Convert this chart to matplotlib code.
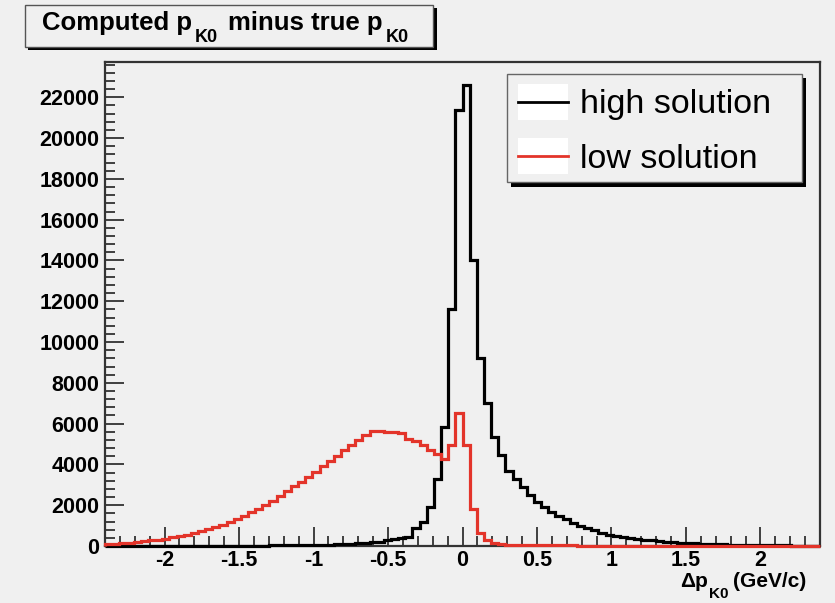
import numpy as np
import matplotlib
matplotlib.use("Agg")
import matplotlib.pyplot as plt
from matplotlib.patches import Rectangle
from matplotlib.lines import Line2D
from matplotlib.ticker import MultipleLocator

plt.rcParams['font.family'] = ['Liberation Sans', 'DejaVu Sans']
plt.rcParams['axes.unicode_minus'] = False

# histogram binning: 100 bins from -2.4 to 2.4 GeV/c
x_lo, x_hi, n_bins = -2.4, 2.4, 100

# high solution counts (thousands), read bin by bin
high = [0.00, 0.00, 0.00, 0.00, 0.00, 0.00, 0.00, 0.00, 0.00, 0.00,
        0.00, 0.00, 0.00, 0.01, 0.01, 0.01, 0.01, 0.01, 0.01, 0.02,
        0.02, 0.02, 0.02, 0.03, 0.03, 0.03, 0.04, 0.04, 0.05, 0.05,
        0.06, 0.07, 0.08, 0.09, 0.11, 0.13, 0.15, 0.18, 0.22, 0.27,
        0.33, 0.40, 0.46, 0.87, 1.19, 1.93, 3.30, 5.85, 11.6, 21.4,
        22.6, 14.0, 9.20, 7.00, 5.36, 4.46, 3.70, 3.28, 2.88, 2.50,
        2.17, 1.90, 1.68, 1.48, 1.30, 1.15, 1.00, 0.88, 0.77, 0.66,
        0.56, 0.49, 0.43, 0.38, 0.34, 0.30, 0.27, 0.24, 0.21, 0.19,
        0.17, 0.15, 0.13, 0.11, 0.10, 0.09, 0.08, 0.07, 0.06, 0.05,
        0.045, 0.04, 0.035, 0.03, 0.03, 0.025, 0.02, 0.02, 0.02, 0.015]

# low solution counts (thousands)
low = [0.10, 0.12, 0.14, 0.17, 0.20, 0.23, 0.27, 0.31, 0.36, 0.42,
       0.48, 0.55, 0.63, 0.72, 0.82, 0.93, 1.05, 1.18, 1.32, 1.48,
       1.65, 1.83, 2.02, 2.22, 2.45, 2.68, 2.92, 3.15, 3.40, 3.65,
       3.90, 4.15, 4.42, 4.70, 4.95, 5.20, 5.45, 5.62, 5.65, 5.60,
       5.58, 5.55, 5.25, 5.15, 4.95, 4.70, 4.50, 4.25, 4.95, 6.50,
       4.95, 1.80, 0.65, 0.30, 0.15, 0.08, 0.06, 0.05, 0.05, 0.04,
       0.04, 0.04, 0.03, 0.03, 0.03, 0.03, 0.02, 0.02, 0.02, 0.02,
       0.02, 0.02, 0.02, 0.01, 0.01, 0.01, 0.01, 0.01, 0.01, 0.01,
       0.01, 0.01, 0.01, 0.01, 0.01, 0.01, 0.01, 0.01, 0.01, 0.01,
       0.01, 0.01, 0.01, 0.01, 0.01, 0.01, 0.01, 0.01, 0.01, 0.01]

x_ticks = [-2, -1.5, -1, -0.5, 0, 0.5, 1, 1.5, 2]
x_tick_labels = ['-2', '-1.5', '-1', '-0.5', '0', '0.5', '1', '1.5', '2']
y_ticks = list(range(0, 22001, 2000))

# (text, size, drop in px, gap after in px)
title_parts = [('Computed p', 18.5, 0, 3), ('K0', 13, 12, 10),
               ('minus true p', 18.5, 0, 3), ('K0', 13, 12, 0)]
xlabel_parts = [('\u0394p', 15, 0, 1), ('K0', 11, 11, 4), ('(GeV/c)', 15, 0, 0)]
legend_labels = ['high solution', 'low solution']

W, H = 835, 603
bg = '#f0f0f0'
red = '#e3342a'

def fx(x):
    return x / W

def fy(y):
    return 1 - y / H

fig = plt.figure(figsize=(W / 100, H / 100), dpi=100, facecolor=bg)
renderer = fig.canvas.get_renderer()

def rich_text(x0, y0, parts, align='left', z=3):
    # draws bold text pieces one after another, subscripts dropped lower
    texts = []
    for s, size, drop, gap in parts:
        t = fig.text(0, 0, s, fontsize=size, fontweight='bold',
                     ha='left', va='baseline', zorder=z)
        texts.append((t, t.get_window_extent(renderer).width, drop, gap))
    total = sum(w + g for _, w, _, g in texts)
    x = x0 - total if align == 'right' else x0
    for t, w, drop, gap in texts:
        t.set_position((fx(x), fy(y0 + drop)))
        x += w + gap

ax = fig.add_axes([fx(105), fy(546), fx(820) - fx(105), fy(62) - fy(546)])
ax.set_facecolor(bg)

edges = np.linspace(x_lo, x_hi, n_bins + 1)
ax.stairs(np.array(high) * 1000, edges, color='black', lw=2.3, zorder=3, clip_on=False)
ax.stairs(np.array(low) * 1000, edges, color=red, lw=2.3, zorder=4, clip_on=False)

ax.set_xlim(x_lo, x_hi)
ax.set_ylim(0, max(high) * 1000 * 1.05)
ax.set_xticks(x_ticks)
ax.set_xticklabels(x_tick_labels)
ax.set_yticks(y_ticks)
ax.xaxis.set_minor_locator(MultipleLocator(0.1))
ax.yaxis.set_minor_locator(MultipleLocator(400))
ax.tick_params(which='both', direction='in', top=False, right=False,
               width=1.2, color='#222222')
ax.tick_params(which='major', length=14, labelsize=15.5)
ax.tick_params(which='minor', length=7)
ax.tick_params(axis='x', pad=3)
ax.tick_params(axis='y', pad=4)
for lab in ax.get_xticklabels() + ax.get_yticklabels():
    lab.set_fontweight('bold')
for sp in ax.spines.values():
    sp.set_linewidth(1.6)
    sp.set_color('#333333')

rich_text(806, 587, xlabel_parts, align='right')

# title box with shadow
fig.patches.append(Rectangle((fx(28), fy(50)), fx(437) - fx(28), fy(8) - fy(50),
                             transform=fig.transFigure, facecolor='black',
                             edgecolor='none', zorder=1))
fig.patches.append(Rectangle((fx(25), fy(47)), fx(433) - fx(25), fy(5) - fy(47),
                             transform=fig.transFigure, facecolor=bg,
                             edgecolor='#555555', lw=1.0, zorder=2))
rich_text(42, 30, title_parts)

# legend box with shadow
fig.patches.append(Rectangle((fx(511), fy(187)), fx(806) - fx(511), fy(78) - fy(187),
                             transform=fig.transFigure, facecolor='black',
                             edgecolor='none', zorder=5))
fig.patches.append(Rectangle((fx(507), fy(182)), fx(802) - fx(507), fy(74) - fy(182),
                             transform=fig.transFigure, facecolor=bg,
                             edgecolor='#666666', lw=1.0, zorder=6))
for i, (lab, col) in enumerate(zip(legend_labels, ['black', red])):
    y_mid = 101.5 + i * 54.5
    fig.patches.append(Rectangle((fx(518), fy(y_mid + 18)), fx(568) - fx(518), 36 / H,
                                 transform=fig.transFigure, facecolor='white',
                                 edgecolor='none', zorder=7))
    fig.lines.append(Line2D([fx(518), fx(568)], [fy(y_mid), fy(y_mid)],
                            transform=fig.transFigure, color=col, lw=2.0, zorder=8))
    fig.text(fx(580), fy(y_mid), lab, ha='left', va='center_baseline',
             fontsize=24.5, zorder=9)

plt.savefig('out.png', dpi=100, facecolor=bg)
